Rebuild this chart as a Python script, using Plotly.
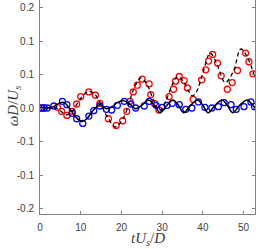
import plotly.graph_objects as go

# Solid black line (model, small oscillation)
solid_t = [0, 3, 5, 6, 7.5, 9, 10.3, 11.5, 13, 14.7, 16.3, 17.5, 19, 20.5, 22, 23.5, 25, 26.6, 28,
           29.5, 31, 32.7, 34, 35.3, 37, 38.7, 40, 41.3, 43, 44.7, 46, 47.4, 49, 50.9, 52, 52.8]
solid_y = [0, 0.001, 0.008, 0.008, -0.003, -0.015, -0.020, -0.016, -0.004, 0.005, -0.001, 0.001, 0.008,
           0.011, 0.006, -0.001, 0.004, 0.012, 0.005, -0.007, 0.003, 0.012, 0.004, -0.007, 0.004, 0.012,
           0.004, -0.007, 0.004, 0.012, 0.004, -0.007, 0.004, 0.012, 0.006, 0.0]

# Dashed black line (model, growing oscillation)
dash_t = [0, 2, 3.5, 5, 6.3, 7.5, 9, 10.5, 12, 13.5, 15, 16.5, 18.5, 20, 21.5, 23, 24.8, 26.3, 28,
          29.5, 31, 32.5, 33.8, 35.2, 36.5, 37.4, 38.5, 40, 41.8, 43.5, 45.5, 47.5, 49.3, 51, 52.8]
dash_y = [0, 0, 0.001, -0.004, -0.010, -0.008, 0.005, 0.018, 0.025, 0.020, 0.005, -0.013, -0.028,
          -0.020, 0.000, 0.028, 0.045, 0.035, 0.010, -0.004, 0.012, 0.035, 0.047, 0.040, 0.025, 0.018,
          0.025, 0.052, 0.082, 0.065, 0.038, 0.055, 0.088, 0.075, 0.045]

# Blue circles
blue_t = [0.3, 1.0, 1.8, 3.4, 5.5, 6.6, 7.9, 9.0, 10.5, 12.0, 13.2, 14.7, 16.3, 17.6, 19.0, 20.7, 22.3,
          23.5, 25.6, 26.8, 28.5, 30.0, 31.2, 32.5, 34.2, 35.8, 37.3, 38.9, 40.5, 42.2, 43.8, 45.2,
          46.9, 48.2, 50.1, 51.8, 52.7]
blue_y = [0.0, 0.0, 0.0, 0.003, 0.010, 0.005, -0.008, -0.016, -0.023, -0.012, -0.004, 0.003, -0.002,
          -0.003, 0.004, 0.010, 0.006, 0.000, 0.003, 0.010, 0.004, 0.001, 0.004, 0.007, 0.005, -0.002,
          0.000, 0.009, 0.001, 0.000, 0.002, 0.008, 0.005, -0.002, 0.002, 0.009, 0.002]

# Red circles
red_t = [0.3, 1.0, 4.3, 5.3, 6.6, 7.9, 9.0, 10.0, 12.0, 13.6, 14.7, 16.8, 18.7, 20.3, 21.3, 22.1, 22.9,
         23.9, 25.1, 26.8, 27.2, 28.1, 29.2, 31.7, 32.8, 33.3, 34.2, 35.4, 36.2, 37.6, 39.7, 40.7,
         41.4, 42.4, 43.6, 44.5, 46.0, 47.2, 48.5, 50.5, 51.3, 52.3]
red_y = [0.0, 0.0, 0.001, -0.005, -0.011, -0.005, 0.006, 0.017, 0.024, 0.019, 0.007, -0.016, -0.026,
         -0.019, -0.005, 0.010, 0.024, 0.034, 0.043, 0.036, 0.020, 0.007, -0.003, 0.017, 0.028, 0.040,
         0.047, 0.041, 0.030, 0.013, 0.042, 0.057, 0.070, 0.080, 0.067, 0.048, 0.028, 0.038, 0.056,
         0.082, 0.069, 0.051]

ytick_vals = [-0.15, -0.1, -0.05, 0, 0.05, 0.1, 0.15]
ytick_text = ["-0.2", "-0.1", "-0.1", "0.0", "0.1", "0.1", "0.2"]
xtick_vals = [0, 10, 20, 30, 40, 50]

fig = go.Figure()
fig.add_trace(go.Scatter(x=red_t, y=red_y, mode="markers",
                         marker=dict(symbol="circle-open", size=6, color="red", line=dict(width=1.3))))
fig.add_trace(go.Scatter(x=blue_t, y=blue_y, mode="markers",
                         marker=dict(symbol="circle-open", size=6, color="blue", line=dict(width=1.3))))
fig.add_trace(go.Scatter(x=dash_t, y=dash_y, mode="lines", line_shape="spline",
                         line=dict(color="black", width=1.3, dash="4px,3px")))
fig.add_trace(go.Scatter(x=solid_t, y=solid_y, mode="lines", line_shape="spline",
                         line=dict(color="black", width=1.5)))

axis_col = "#808080"
fig.update_layout(
    width=259, height=249,
    margin=dict(l=40, r=4, t=0, b=35),
    paper_bgcolor="white", plot_bgcolor="white",
    showlegend=False,
    font=dict(family="Liberation Sans, Arial, sans-serif", size=10, color="#404040"),
    xaxis=dict(range=[0, 52.8], tickvals=xtick_vals, ticks="inside", ticklen=3, tickcolor=axis_col,
               showline=True, linecolor=axis_col, linewidth=1, mirror=False, showgrid=False,
               zeroline=False, ticklabelstandoff=4),
    yaxis=dict(range=[-0.1582, 0.1612], tickvals=ytick_vals, ticktext=ytick_text, ticks="inside",
               ticklen=3, tickcolor=axis_col, showline=True, linecolor=axis_col, linewidth=1,
               mirror="ticks", showgrid=False, zeroline=False, ticklabelstandoff=3),
    annotations=[
        dict(text="<i>ωD</i>/<i>U<sub>s</sub></i>", xref="paper", yref="paper", x=-0.121, y=0.508,
             xanchor="center", yanchor="middle", textangle=-90, showarrow=False,
             font=dict(family="Liberation Serif, Times New Roman, serif", size=15, color="#404040")),
        dict(text="<i>tU<sub>s</sub></i>/<i>D</i>", xref="paper", yref="paper", x=0.5, y=-0.115,
             xanchor="center", yanchor="middle", showarrow=False,
             font=dict(family="Liberation Serif, Times New Roman, serif", size=15, color="#404040")),
    ],
)

fig.write_html("out.html",
               config={"displayModeBar": False},
               post_script="document.body.style.margin='0';document.body.style.padding='0';"
                           "document.body.style.overflow='hidden';")
